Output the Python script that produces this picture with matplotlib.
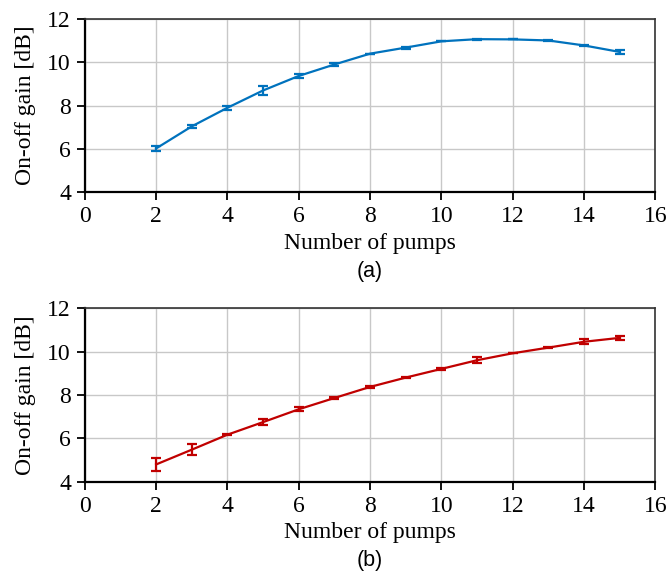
import numpy as np
import matplotlib.pyplot as plt

# Data
pumps = [2, 3, 4, 5, 6, 7, 8, 9, 10, 11, 12, 13, 14, 15]

gain_a = [6.02, 7.04, 7.90, 8.70, 9.37, 9.90, 10.40, 10.68, 10.97, 11.07, 11.06, 11.01, 10.78, 10.48]
err_a = [0.13, 0.07, 0.10, 0.20, 0.10, 0.06, 0.0, 0.05, 0.0, 0.03, 0.0, 0.04, 0.04, 0.08]

gain_b = [4.80, 5.48, 6.17, 6.75, 7.34, 7.86, 8.37, 8.80, 9.20, 9.60, 9.92, 10.18, 10.45, 10.63]
err_b = [0.28, 0.26, 0.02, 0.13, 0.10, 0.06, 0.06, 0.04, 0.05, 0.15, 0.0, 0.03, 0.12, 0.08]

BLUE = '#0072BD'
RED = '#C00000'

plt.rcParams.update({
    'font.family': 'serif',
    'font.serif': ['Liberation Serif', 'DejaVu Serif'],
    'font.size': 17,
})

fig = plt.figure(figsize=(6.68, 5.77), dpi=100)
ax_a = fig.add_axes([0.127, 0.667, 0.854, 0.300])
ax_b = fig.add_axes([0.127, 0.165, 0.854, 0.301])


def style_axis(ax):
    ax.set_xlim(0, 16)
    ax.set_ylim(4, 12)
    ax.set_xticks(range(0, 17, 2))
    ax.set_yticks(range(4, 13, 2))
    ax.grid(True, color='#c8c8c8', linewidth=1.0)
    ax.set_axisbelow(True)
    ax.tick_params(direction='out', length=6, width=1.3, labelsize=17, pad=4)
    for side in ['left', 'bottom']:
        ax.spines[side].set_linewidth(1.6)
        ax.spines[side].set_color('black')
    for side in ['top', 'right']:
        ax.spines[side].set_linewidth(1.2)
        ax.spines[side].set_color('#333333')
    ax.set_xlabel('Number of pumps', fontsize=17, labelpad=4)
    ax.set_ylabel('On-off gain [dB]', fontsize=17, labelpad=8)


for ax, g, e, c in [(ax_a, gain_a, err_a, BLUE), (ax_b, gain_b, err_b, RED)]:
    ax.errorbar(pumps, g, yerr=e, color=c, linewidth=1.6,
                elinewidth=1.6, capsize=3.5, capthick=1.6)
    style_axis(ax)

fig.text(0.554, 0.53, '(a)', ha='center', va='center',
         family='Liberation Sans', fontsize=15.5)
fig.text(0.554, 0.028, '(b)', ha='center', va='center',
         family='Liberation Sans', fontsize=15.5)

fig.savefig('out.png', dpi=100)
